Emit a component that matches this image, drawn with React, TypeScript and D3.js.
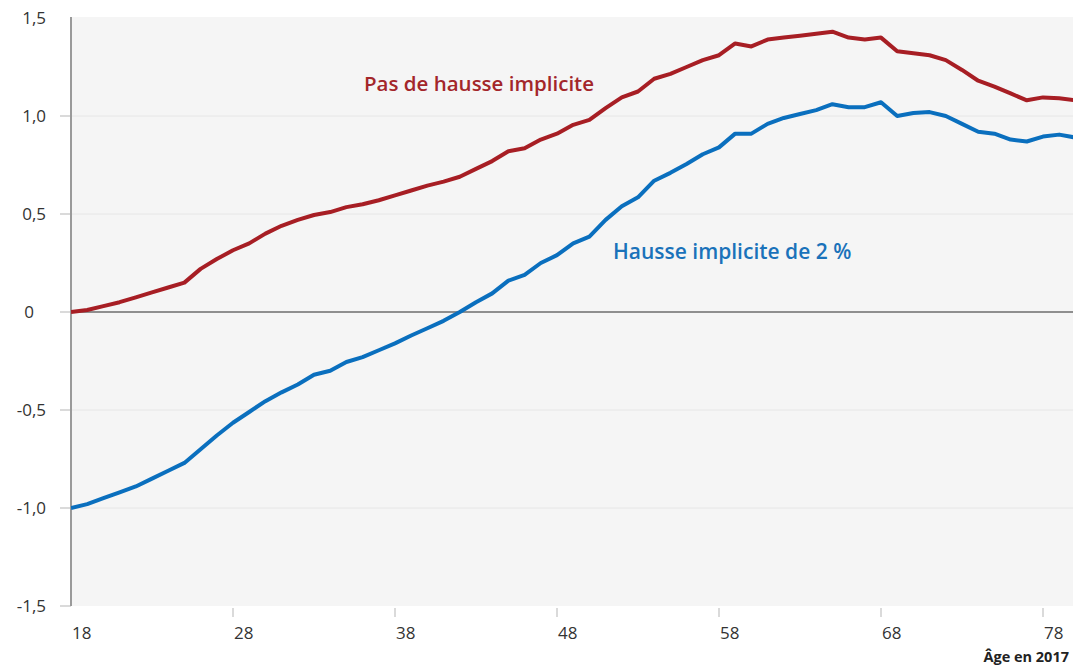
import React from 'react';
import * as d3 from 'd3';

// ages 18..80
const ages = d3.range(18, 81);

const pasDeHausse = [
  0.0, 0.01, 0.03, 0.05, 0.075, 0.1, 0.125, 0.15, 0.22, 0.27,
  0.315, 0.35, 0.4, 0.44, 0.47, 0.495, 0.51, 0.535, 0.55, 0.57,
  0.595, 0.62, 0.645, 0.665, 0.69, 0.73, 0.77, 0.82, 0.835, 0.88,
  0.91, 0.955, 0.98, 1.04, 1.095, 1.125, 1.19, 1.215, 1.25, 1.285,
  1.31, 1.37, 1.355, 1.39, 1.4, 1.41, 1.42, 1.43, 1.4, 1.39,
  1.4, 1.33, 1.32, 1.31, 1.285, 1.235, 1.18, 1.15, 1.115, 1.08,
  1.095, 1.09, 1.08,
];

const hausse2 = [
  -1.0, -0.98, -0.95, -0.92, -0.89, -0.85, -0.81, -0.77, -0.7, -0.63,
  -0.565, -0.51, -0.455, -0.41, -0.37, -0.32, -0.3, -0.255, -0.23, -0.195,
  -0.16, -0.12, -0.083, -0.045, 0.0, 0.05, 0.095, 0.16, 0.19, 0.25,
  0.29, 0.35, 0.385, 0.47, 0.54, 0.585, 0.67, 0.71, 0.755, 0.805,
  0.84, 0.91, 0.91, 0.96, 0.99, 1.01, 1.03, 1.06, 1.045, 1.045,
  1.07, 1.0, 1.015, 1.02, 1.0, 0.96, 0.92, 0.91, 0.88, 0.87,
  0.895, 0.905, 0.89,
];

const yTicks = [1.5, 1.0, 0.5, 0, -0.5, -1.0, -1.5];
const xTicks = [18, 28, 38, 48, 58, 68, 78];

const W = 1073;
const H = 669;
const font = '"Open Sans", "Noto Sans", sans-serif';

const fmt = (v: number) =>
  v === 0 ? '0' : d3.format('.1f')(v).replace('.', ',').replace('\u2212', '-');

export default function App() {
  const left = 71;
  const right = W;
  const top = 18;
  const bottom = 606;

  const x = d3.scaleLinear().domain([18, 78]).range([left, 1043]);
  const y = d3.scaleLinear().domain([-1.5, 1.5]).range([bottom, top]);

  const line = d3
    .line<number>()
    .x((_, i) => x(ages[i]))
    .y((d) => y(d))
    .curve(d3.curveLinear);

  return (
    <svg
      width={W}
      height={H}
      style={{ position: 'absolute', left: 0, top: 0, background: '#fff' }}
      fontFamily={font}
    >
      <defs>
        <clipPath id="plot">
          <rect x={left} y={top - 2} width={right - left} height={bottom - top + 4} />
        </clipPath>
      </defs>
      <rect x={left} y={top - 1} width={right - left} height={bottom - top + 1} fill="#f5f5f5" />

      {yTicks.map((t) => (
        <g key={t}>
          {t !== 0 && t !== 1.5 && t !== -1.5 && (
            <line x1={left} x2={right} y1={y(t)} y2={y(t)} stroke="#e6e6e6" strokeWidth={1} />
          )}
          {t !== 1.5 && (
            <line x1={60} x2={left} y1={y(t)} y2={y(t)} stroke="#b5b5b5" strokeWidth={1} />
          )}
          <text
            x={t === 0 ? 29 : 46}
            y={y(t)}
            dy="0.36em"
            textAnchor={t === 0 ? 'middle' : 'end'}
            fontSize={17}
            fill="#333"
          >
            {fmt(t)}
          </text>
        </g>
      ))}

      {xTicks.map((t) => (
        <g key={t}>
          {t !== 18 && (
            <line x1={x(t)} x2={x(t)} y1={bottom + 2} y2={bottom + 11} stroke="#b5b5b5" strokeWidth={1} />
          )}
          <text x={x(t) + 1} y={639} textAnchor="start" fontSize={17} fill="#333">
            {t}
          </text>
        </g>
      ))}

      <line x1={left} x2={right} y1={y(0)} y2={y(0)} stroke="#8f8f8f" strokeWidth={2} />
      <line x1={left} x2={left} y1={top - 1} y2={bottom} stroke="#9a9a9a" strokeWidth={2} />

      <g clipPath="url(#plot)">
        <path d={line(pasDeHausse) || ''} fill="none" stroke="#a71e24" strokeWidth={4} strokeLinejoin="round" />
        <path d={line(hausse2) || ''} fill="none" stroke="#0a6fbe" strokeWidth={4} strokeLinejoin="round" />
      </g>

      <text x={364} y={91} fontSize={20.5} fontWeight={600} fill="#a3262a">
        Pas de hausse implicite
      </text>
      <text x={613} y={259} fontSize={21} fontWeight={600} fill="#1a72ba">
        Hausse implicite de 2 %
      </text>

      <text x={1069} y={662} textAnchor="end" fontSize={14.5} fontWeight={700} fill="#222">
        Âge en 2017
      </text>
    </svg>
  );
}
